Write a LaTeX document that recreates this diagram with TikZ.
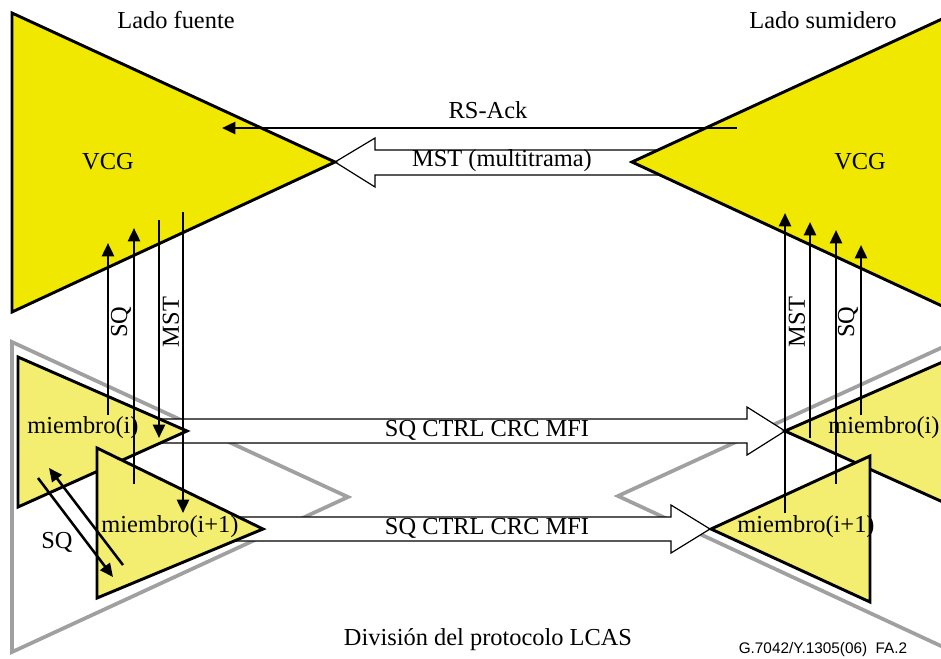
\documentclass[tikz,border=0pt]{standalone}
\usepackage{fontspec}
\setmainfont{Liberation Serif}
\newfontfamily\figsans{Liberation Sans}
\usetikzlibrary{arrows.meta}
\definecolor{vcgyellow}{RGB}{240,232,0}
\definecolor{memberyellow}{RGB}{243,237,112}
\definecolor{framegray}{RGB}{160,160,160}
\tikzset{
  vcgtri/.style={fill=vcgyellow, draw=black, line width=2.2pt, line join=miter},
  membertri/.style={fill=memberyellow, draw=black, line width=2.2pt, line join=miter},
  frametri/.style={draw=framegray, line width=2.8pt, line join=miter},
  hollowarrow/.style={fill=white, draw=black, line width=0.9pt, line join=miter},
  sig/.style={draw=black, line width=1.9pt, -{Triangle[length=10pt,width=9pt]}},
  lbl/.style={inner sep=0pt, anchor=center},
}
\begin{document}
\begin{tikzpicture}[x=0.75pt, y=-0.75pt, font=\fontsize{18.3}{20}\selectfont]
\clip (0,0) rectangle (941,658);

% LCAS split frames
\draw[frametri] (12,342) -- (348,497) -- (12,652) -- cycle;
\draw[frametri] (954,342) -- (618,496) -- (954,652) -- cycle;

% wide (hollow) arrows
\draw[hollowarrow] (335,162) -- (375,138) -- (375,150) -- (665,150) -- (665,175)
  -- (375,175) -- (375,187) -- cycle;
\draw[hollowarrow] (150,419) -- (747,419) -- (747,407) -- (785,431) -- (747,455)
  -- (747,443) -- (150,443) -- cycle;
\draw[hollowarrow] (225,517) -- (671,517) -- (671,505) -- (710,529) -- (671,553)
  -- (671,541) -- (225,541) -- cycle;

% VCG triangles
\draw[vcgtri] (12,13) -- (335,162) -- (12,312) -- cycle;
\draw[vcgtri] (955,13) -- (632,162) -- (955,312) -- cycle;

% member triangles
\draw[membertri] (18,357) -- (187,431) -- (18,507) -- cycle;
\draw[membertri] (97,448) -- (263,529) -- (97,598) -- cycle;
\draw[membertri] (954,357) -- (785,431) -- (954,507) -- cycle;
\draw[membertri] (870,456) -- (711,529) -- (870,602) -- cycle;

% signal end points
\coordinate (ackS) at (737,128);  \coordinate (ackE) at (222,128);
\coordinate (lSQaS) at (108,415); \coordinate (lSQaE) at (108,243);
\coordinate (lSQbS) at (134,484); \coordinate (lSQbE) at (134,228);
\coordinate (lMSTaS) at (159,220); \coordinate (lMSTaE) at (159,438);
\coordinate (lMSTbS) at (183,212); \coordinate (lMSTbE) at (183,513);
\coordinate (rMSTaS) at (785,513); \coordinate (rMSTaE) at (785,213);
\coordinate (rMSTbS) at (810,438); \coordinate (rMSTbE) at (810,222);
\coordinate (rSQaS) at (836,484); \coordinate (rSQaE) at (836,230);
\coordinate (rSQbS) at (861,415); \coordinate (rSQbE) at (861,245);
\coordinate (dSQaS) at (38,478);  \coordinate (dSQaE) at (113,577);
\coordinate (dSQbS) at (123,565); \coordinate (dSQbE) at (49,468);

% signals
\draw[sig] (ackS) -- (ackE);
\draw[sig] (lSQaS) -- (lSQaE);
\draw[sig] (lSQbS) -- (lSQbE);
\draw[sig] (lMSTaS) -- (lMSTaE);
\draw[sig] (lMSTbS) -- (lMSTbE);
\draw[sig] (rMSTaS) -- (rMSTaE);
\draw[sig] (rMSTbS) -- (rMSTbE);
\draw[sig] (rSQaS) -- (rSQaE);
\draw[sig] (rSQbS) -- (rSQbE);
\draw[sig] (dSQaS) -- (dSQaE);
\draw[sig] (dSQbS) -- (dSQbE);

% labels
\node[lbl] (srcside) at (176,20) {Lado fuente};
\node[lbl] (snkside) at (823,20) {Lado sumidero};
\node[lbl] (vcgL) at (108,162) {VCG};
\node[lbl] (vcgR) at (860,162) {VCG};
\node[lbl] (rsack) at (488,110) {RS-Ack};
\node[lbl] (mstmf) at (502,161) {MST (multitrama)};
\node[lbl] (ctrlA) at (487,430) {SQ CTRL CRC MFI};
\node[lbl] (ctrlB) at (487,528) {SQ CTRL CRC MFI};
\node[lbl, rotate=90] (lSQ) at (121,322) {SQ};
\node[lbl, rotate=90] (lMST) at (171,322) {MST};
\node[lbl, rotate=90] (rMST) at (797,322) {MST};
\node[lbl, rotate=90] (rSQ) at (848,322) {SQ};
\node[lbl] (memLi) at (83,428) {miembro(i)};
\node[lbl] (memLj) at (170,527) {miembro(i+1)};
\node[lbl] (memRi) at (884,428) {miembro(i)};
\node[lbl] (memRj) at (806,527) {miembro(i+1)};
\node[lbl] (dSQ) at (57,542) {SQ};
\node[lbl] (split) at (488,640) {División del protocolo LCAS};
\node[lbl, font=\figsans\fontsize{11.5}{13}\selectfont] (figid) at (823,650) {G.7042/Y.1305(06)\ \ FA.2};
\end{tikzpicture}
\end{document}
